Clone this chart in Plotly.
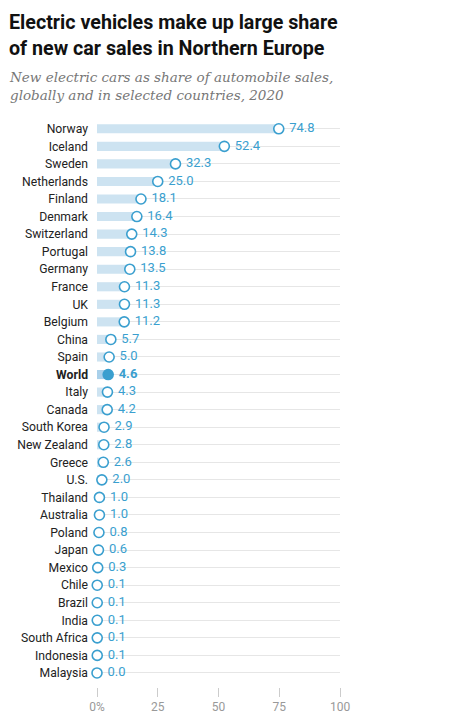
import plotly.graph_objects as go

# --- Data ---
countries = ['Norway', 'Iceland', 'Sweden', 'Netherlands', 'Finland', 'Denmark',
             'Switzerland', 'Portugal', 'Germany', 'France', 'UK', 'Belgium',
             'China', 'Spain', 'World', 'Italy', 'Canada', 'South Korea',
             'New Zealand', 'Greece', 'U.S.', 'Thailand', 'Australia', 'Poland',
             'Japan', 'Mexico', 'Chile', 'Brazil', 'India', 'South Africa',
             'Indonesia', 'Malaysia']
shares = [74.8, 52.4, 32.3, 25.0, 18.1, 16.4, 14.3, 13.8, 13.5, 11.3, 11.3, 11.2,
          5.7, 5.0, 4.6, 4.3, 4.2, 2.9, 2.8, 2.6, 2.0, 1.0, 1.0, 0.8,
          0.6, 0.3, 0.1, 0.1, 0.1, 0.1, 0.1, 0.0]
x_ticks = [0, 25, 50, 75, 100]
x_tick_labels = ['0%', '25', '50', '75', '100']

highlight = 'World'
blue = '#3a9fcf'
bar_blue = '#cde3f1'

is_world = [c == highlight for c in countries]
tick_labels = ['<b>%s</b>' % c if w else c for c, w in zip(countries, is_world)]
value_labels = [' <b>%.1f</b>' % v if w else ' %.1f' % v for v, w in zip(shares, is_world)]

fig = go.Figure()

# light bars from zero to each value
fig.add_trace(go.Bar(
    x=shares, y=countries, orientation='h',
    marker=dict(color=['#a9d0ea' if w else bar_blue for w in is_world], line=dict(width=0)),
    width=0.52,
    hoverinfo='skip',
    showlegend=False
))

# dots with value labels
fig.add_trace(go.Scatter(
    x=shares, y=countries,
    mode='markers+text',
    marker=dict(size=10, color=[blue if w else 'white' for w in is_world],
                line=dict(color=blue, width=1.6)),
    text=value_labels,
    textposition='middle right',
    textfont=dict(family='Roboto, Arial, sans-serif', size=13, color=blue),
    cliponaxis=False,
    showlegend=False
))

fig.update_layout(
    width=466, height=727,
    margin=dict(l=97, r=126, t=120, b=40),
    plot_bgcolor='white', paper_bgcolor='white',
    bargap=0.5,
    font=dict(family='Roboto, Arial, sans-serif', color='#222'),
    xaxis=dict(
        range=[0, 100], tickvals=x_ticks, ticktext=x_tick_labels,
        showgrid=False, zeroline=False, showline=False,
        ticks='outside', ticklen=9, tickcolor='#cccccc', tickwidth=1,
        tickfont=dict(size=12, color='#999999')
    ),
    yaxis=dict(
        categoryorder='array', categoryarray=countries,
        tickvals=countries, ticktext=tick_labels,
        range=[31.8, -0.5],
        showgrid=True, gridcolor='#e6e6e6', gridwidth=1,
        zeroline=False, showline=False, ticks='',
        ticklabelstandoff=8,
        tickfont=dict(size=12.2, color='#222')
    ),
    annotations=[
        dict(text='<b>Electric vehicles make up large share<br>of new car sales in Northern Europe</b>',
             xref='paper', yref='paper', x=-0.370, y=1.196,
             xanchor='left', yanchor='top', align='left', showarrow=False,
             font=dict(family='Roboto, Arial, sans-serif', size=19.7, color='#111')),
        dict(text='<i>New electric cars as share of automobile sales,<br>globally and in selected countries, 2020</i>',
             xref='paper', yref='paper', x=-0.370, y=1.094,
             xanchor='left', yanchor='top', align='left', showarrow=False,
             font=dict(family='DejaVu Serif, Georgia, serif', size=13.5, color='#777')),
    ]
)

# drop the page's default body margin so the figure sits at the window corner
fig.write_html('out.html', config={'displayModeBar': False},
               post_script="document.body.style.margin='0';")
